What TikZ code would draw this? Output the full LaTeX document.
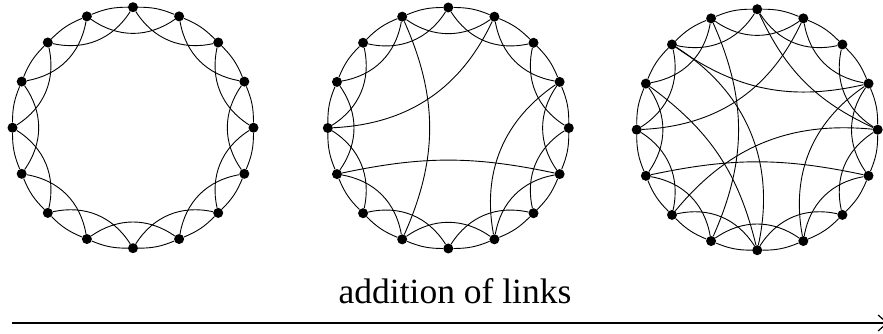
\documentclass[tikz,border=0pt]{standalone}
\usepackage{fontspec}
\setmainfont{Liberation Serif}
\usetikzlibrary{positioning,arrows.meta,calc}
\tikzset{
  vertex/.style={circle, fill=black, draw=none, inner sep=0pt, minimum size=10pt},
  rim/.style={line width=0.9pt},
  shortcut/.style={line width=0.9pt},
  trend/.style={line width=1.6pt, -{Straight Barb[length=9pt, width=16pt, line width=1.2pt]}},
  caption/.style={font=\fontsize{35.5}{40}\selectfont, anchor=base, inner sep=0pt},
}

\begin{document}
\begin{tikzpicture}[x=1pt, y=1pt]
  \useasboundingbox (0,0) rectangle (883,334);
  % three rings of 16 vertices, each linked to its two nearest neighbours on each side
  \foreach \ring/\cx/\cy in {a/133/206.3, b/448.3/206, c/757.2/204.3} {
    \coordinate (\ring0) at (\cx,\cy);
    \foreach \k in {1,...,16}
      \node[vertex] (\ring\k) at ($(\ring0)+({90-22.5*(\k-1)}:120.5)$) {};
    \foreach \k [evaluate=\k as \n using {int(mod(\k,16)+1)},
                 evaluate=\k as \m using {int(mod(\k+1,16)+1)}] in {1,...,16} {
      \draw[rim] (\ring\k) to[bend left=11.25] (\ring\n);
      \draw[rim] (\ring\k) to[bend right=35] (\ring\m);
    }
  }
  % added links
  \foreach \s/\t/\ang in {10/16/24, 13/2/31, 4/8/33, 6/12/12}
    \draw[shortcut] (b\s) to[bend right=\ang] (b\t);
  \foreach \s/\t/\ang in {10/16/24, 13/2/31, 4/8/33, 6/12/12,
                          15/4/24, 1/5/20, 5/11/28, 9/14/20, 9/15/35}
    \draw[shortcut] (c\s) to[bend right=\ang] (c\t);

  \node[caption] (label) at (455,30) {addition of links};
  \coordinate (start) at (12,11);
  \coordinate (finish) at (888,11);
  \draw[trend] (start) -- (finish);
\end{tikzpicture}
\end{document}
